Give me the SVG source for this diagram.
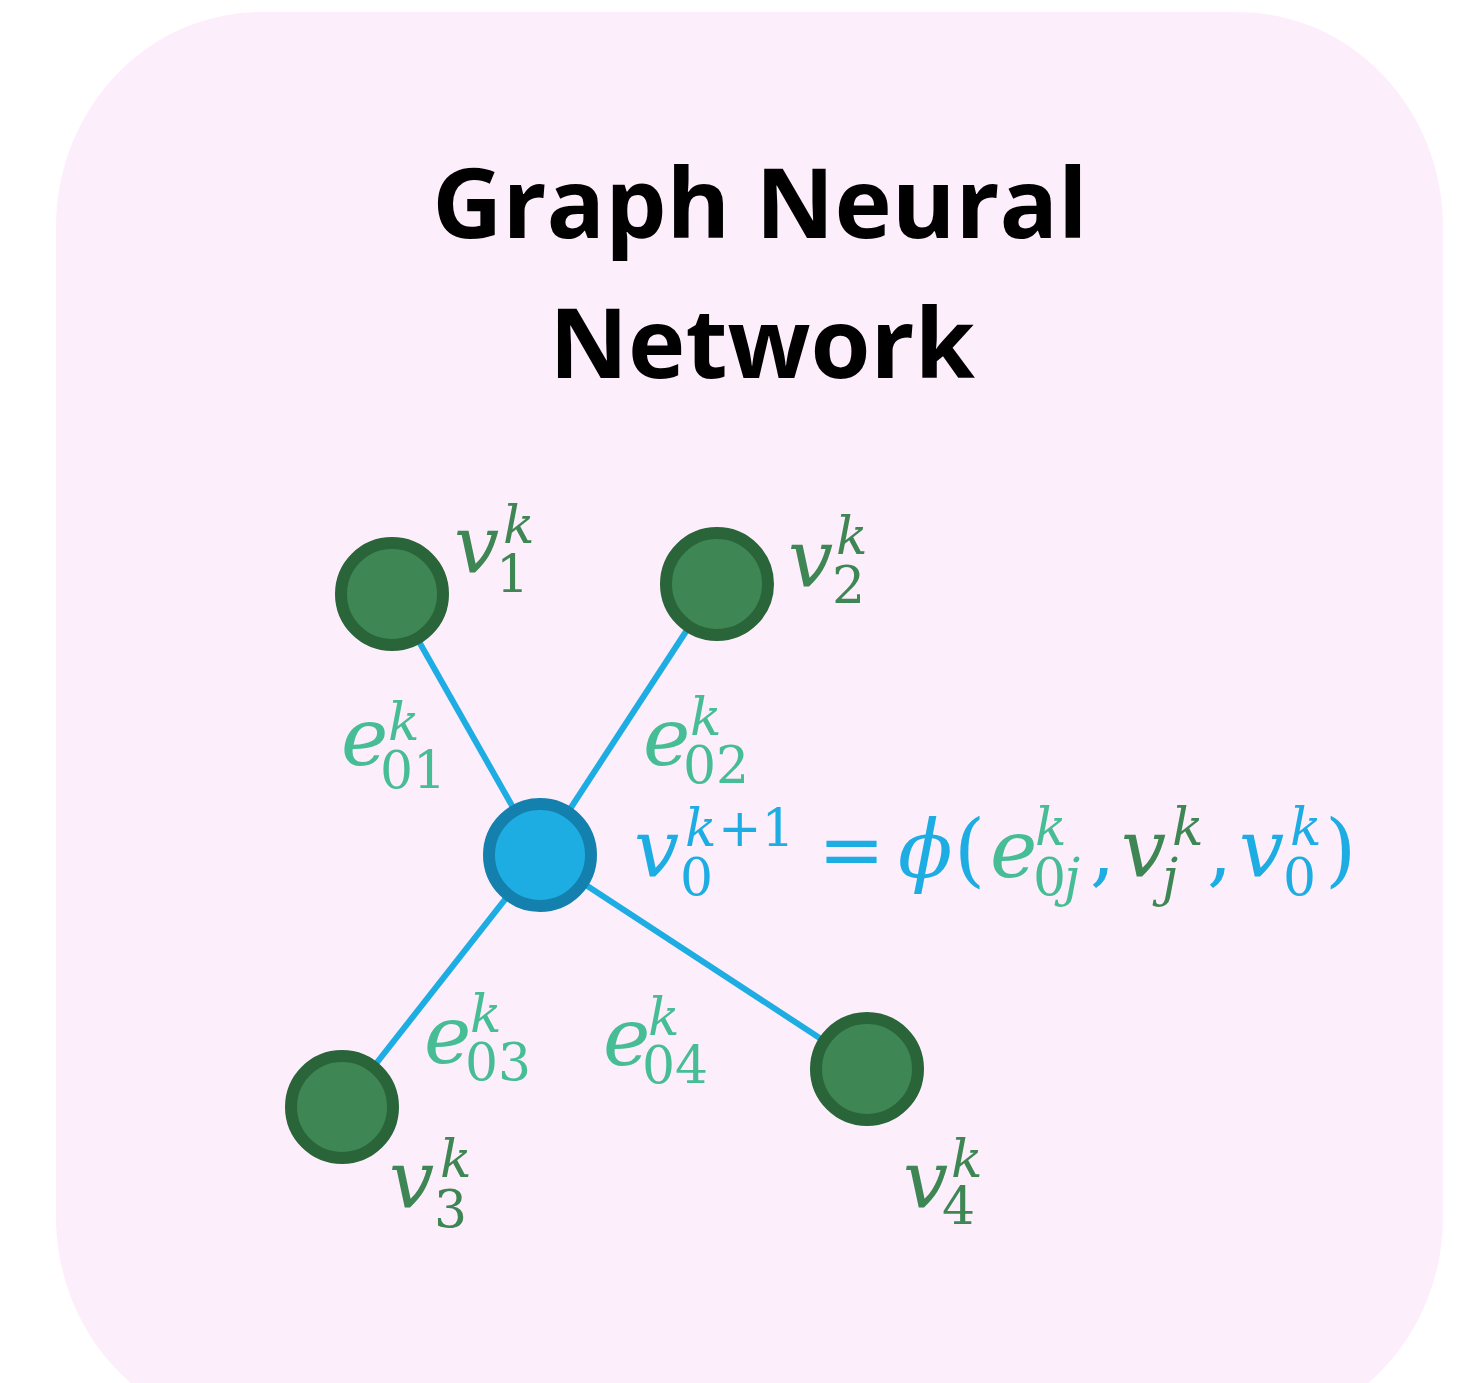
<svg xmlns="http://www.w3.org/2000/svg" width="1466" height="1383" viewBox="0 0 1466 1383">
<style>
.title{font-family:"Open Sans","Noto Sans","DejaVu Sans",sans-serif;font-weight:700;font-size:97px;fill:#000;text-anchor:middle}
.lab{font-family:"DejaVu Serif","Liberation Serif",serif;font-style:italic;font-size:80px}
.s{font-size:52px}
.d{font-size:52px;font-style:normal}
.u{font-style:normal}
.vg{fill:#3E8654}
.eg{fill:#47BD95}
.bl{fill:#1EADE3}
.gn{fill:#3E8654;stroke:#2A6439;stroke-width:12}
.bn{fill:#1EADE3;stroke:#1380AD;stroke-width:12}
.edge{stroke:#1EADE3;stroke-width:6;fill:none}
</style>
<rect x="56" y="12" width="1387" height="1420" rx="205" ry="215" fill="#FDEEFC"/>
<g id="title">
<text class="title" x="760" y="238">Graph Neural</text>
<text class="title" x="762" y="378">Network</text>
</g>
<g id="connectors">
<line class="edge" x1="540" y1="855" x2="392" y2="594"/>
<line class="edge" x1="540" y1="855" x2="717" y2="584"/>
<line class="edge" x1="540" y1="855" x2="342" y2="1107"/>
<line class="edge" x1="540" y1="855" x2="867" y2="1069"/>
</g>
<g id="v1"><circle class="gn" cx="392" cy="594" r="51"/>
<text class="lab vg"><tspan x="454" y="573">v</tspan><tspan class="s" x="503" y="543">k</tspan><tspan class="d" x="496" y="592">1</tspan></text></g>
<g id="v2"><circle class="gn" cx="717" cy="584" r="51"/>
<text class="lab vg"><tspan x="788" y="587">v</tspan><tspan class="s" x="836" y="554">k</tspan><tspan class="d" x="832" y="603">2</tspan></text></g>
<g id="v3"><circle class="gn" cx="342" cy="1107" r="51"/>
<text class="lab vg"><tspan x="389" y="1208">v</tspan><tspan class="s" x="440" y="1177">k</tspan><tspan class="d" x="434" y="1227">3</tspan></text></g>
<g id="v4"><circle class="gn" cx="867" cy="1069" r="51"/>
<text class="lab vg"><tspan x="903" y="1208">v</tspan><tspan class="s" x="951" y="1177">k</tspan><tspan class="d" x="942" y="1224">4</tspan></text></g>
<g id="v0"><circle class="bn" cx="540" cy="855" r="51"/></g>
<g id="edge-labels">
<text class="lab eg"><tspan x="341" y="765">e</tspan><tspan class="s" x="388" y="740">k</tspan><tspan class="d" x="380" y="788">01</tspan></text>
<text class="lab eg"><tspan x="643" y="765">e</tspan><tspan class="s" x="690" y="735">k</tspan><tspan class="d" x="683" y="783">02</tspan></text>
<text class="lab eg"><tspan x="424" y="1063">e</tspan><tspan class="s" x="470" y="1032">k</tspan><tspan class="d" x="465" y="1080">03</tspan></text>
<text class="lab eg"><tspan x="603" y="1065">e</tspan><tspan class="s" x="648" y="1035">k</tspan><tspan class="d" x="642" y="1083">04</tspan></text>
</g>
<g id="equation">
<text class="lab bl"><tspan x="634" y="877">v</tspan><tspan class="s" x="685" y="846">k</tspan><tspan class="d" x="718" y="846">+1</tspan><tspan class="d" x="680" y="895">0</tspan><tspan class="u" x="818" y="877">=</tspan><tspan x="898" y="877">ϕ</tspan><tspan class="u" x="954" y="877">(</tspan><tspan class="eg" x="990" y="877">e</tspan><tspan class="s eg" x="1035" y="845">k</tspan><tspan class="d eg" x="1033" y="895">0</tspan><tspan class="s eg" x="1064" y="895">j</tspan><tspan class="u" x="1090" y="877">,</tspan><tspan class="vg" x="1121" y="877">v</tspan><tspan class="s vg" x="1172" y="845">k</tspan><tspan class="s vg" x="1162" y="895">j</tspan><tspan class="u" x="1207" y="877">,</tspan><tspan x="1239" y="877">v</tspan><tspan class="s" x="1290" y="845">k</tspan><tspan class="d" x="1283" y="895">0</tspan><tspan class="u" x="1325" y="877">)</tspan></text>
</g>
</svg>
